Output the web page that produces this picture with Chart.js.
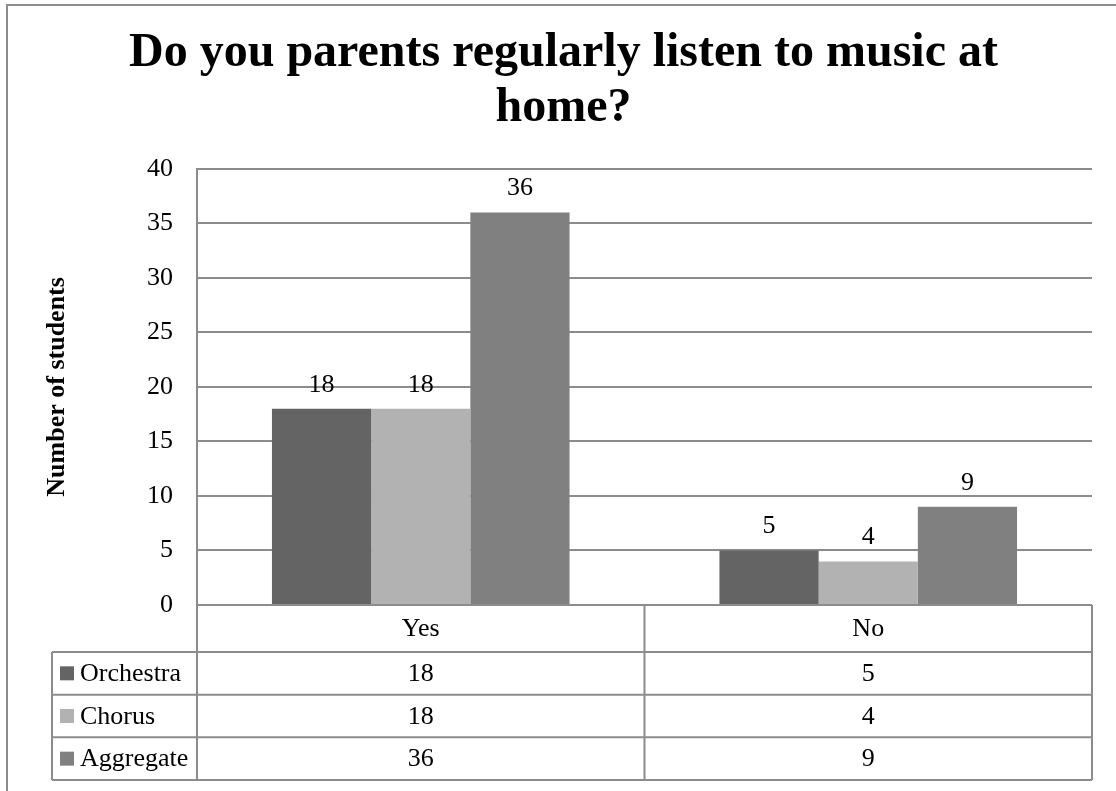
<!DOCTYPE html>
<html><head><meta charset="utf-8">
<script src="https://cdn.jsdelivr.net/npm/chart.js@4.4.1/dist/chart.umd.min.js"></script>
<style>html,body{margin:0;padding:0;background:#fff}canvas{display:block}</style>
</head><body>
<canvas id="c" width="1116" height="791"></canvas>
<script>
// ---- data ----
const categories = ['Yes', 'No'];
const seriesNames = ['Orchestra', 'Chorus', 'Aggregate'];
const orchestra = [18, 5];
const chorus = [18, 4];
const aggregate = [36, 9];
const yTickLabels = ['0', '5', '10', '15', '20', '25', '30', '35', '40'];
const titleLines = ['Do you parents regularly listen to music at', 'home?'];
const yTitle = 'Number of students';

// ---- styles ----
const seriesColors = ['#646464', '#b2b2b2', '#808080'];
const FONT = '"Liberation Serif", "Times New Roman", serif';
const LINE = '#8c8c8c';
const FS = 26;

const seriesValues = [orchestra, chorus, aggregate];

const tablePlugin = {
  id: 'dataTable',
  afterDraw(chart) {
    const ctx = chart.ctx, ca = chart.chartArea, xs = chart.scales.x;
    ctx.save();
    // outer chart border
    ctx.strokeStyle = LINE; ctx.lineWidth = 2;
    ctx.strokeRect(7, 5, 1120, 800);

    // data labels above bars
    ctx.fillStyle = '#000';
    ctx.font = FS + 'px ' + FONT;
    ctx.textAlign = 'center';
    ctx.textBaseline = 'alphabetic';
    chart.data.datasets.forEach((ds, i) => {
      const meta = chart.getDatasetMeta(i);
      meta.data.forEach((bar, j) => {
        ctx.fillText(String(ds.data[j]), bar.x, bar.y - 17);
      });
    });

    // table geometry
    const top = ca.bottom;
    const catRowBottom = top + 47;
    const rowH = (780 - catRowBottom) / seriesNames.length;
    const tableLeft = 52;
    const xMid = (xs.getPixelForValue(0) + xs.getPixelForValue(1)) / 2;
    const bottom = catRowBottom + rowH * seriesNames.length;

    ctx.strokeStyle = LINE; ctx.lineWidth = 2;
    ctx.beginPath();
    ctx.moveTo(ca.left, top); ctx.lineTo(ca.left, bottom);
    ctx.moveTo(xMid, top); ctx.lineTo(xMid, bottom);
    ctx.moveTo(ca.right, top); ctx.lineTo(ca.right, bottom);
    ctx.moveTo(tableLeft, catRowBottom); ctx.lineTo(tableLeft, bottom);
    for (let r = 0; r <= seriesNames.length; r++) {
      const y = catRowBottom + r * rowH;
      ctx.moveTo(tableLeft, y); ctx.lineTo(ca.right, y);
    }
    ctx.stroke();

    // category labels
    ctx.fillStyle = '#000';
    ctx.textBaseline = 'middle';
    ctx.textAlign = 'center';
    categories.forEach((c, j) => {
      ctx.fillText(c, xs.getPixelForValue(j), (top + catRowBottom) / 2 + 1);
    });
    // rows
    seriesNames.forEach((name, i) => {
      const yc = catRowBottom + rowH * (i + 0.5) + 1;
      ctx.fillStyle = seriesColors[i];
      ctx.fillRect(60, yc - 8, 14, 14);
      ctx.fillStyle = '#000';
      ctx.textAlign = 'left';
      ctx.fillText(name, 80, yc);
      ctx.textAlign = 'center';
      seriesValues[i].forEach((v, j) => {
        ctx.fillText(String(v), xs.getPixelForValue(j), yc);
      });
    });
    ctx.restore();
  }
};

new Chart(document.getElementById('c'), {
  type: 'bar',
  data: {
    labels: categories,
    datasets: seriesNames.map((n, i) => ({
      label: n,
      data: seriesValues[i],
      backgroundColor: seriesColors[i],
      borderWidth: 0,
      barPercentage: 1,
      categoryPercentage: 0.665
    }))
  },
  options: {
    responsive: false,
    animation: false,
    devicePixelRatio: 1,
    layout: { padding: { left: 35, right: 24, top: 0, bottom: 186 } },
    plugins: {
      legend: { display: false },
      tooltip: { enabled: false },
      title: {
        display: true,
        text: titleLines,
        color: '#000',
        font: { family: FONT, size: 48, weight: 'bold', lineHeight: 1.15 },
        padding: { top: 26, bottom: 32.4 }
      }
    },
    scales: {
      x: { display: false },
      y: {
        min: 0, max: 40,
        afterFit(scale) { scale.width = 162; },
        afterBuildTicks(scale) { scale.ticks = yTickLabels.map(t => ({ value: Number(t) })); },
        ticks: {
          color: '#000',
          padding: 24,
          font: { family: FONT, size: FS },
          callback: (v, i) => yTickLabels[i]
        },
        grid: { color: LINE, lineWidth: 2, drawTicks: false },
        border: { display: true, color: LINE, width: 2 },
        title: {
          display: true,
          text: yTitle,
          color: '#000',
          font: { family: FONT, size: FS, weight: 'bold', lineHeight: 1.2 },
          padding: { top: 7, bottom: 0 }
        }
      }
    }
  },
  plugins: [tablePlugin]
});
</script>
</body></html>
